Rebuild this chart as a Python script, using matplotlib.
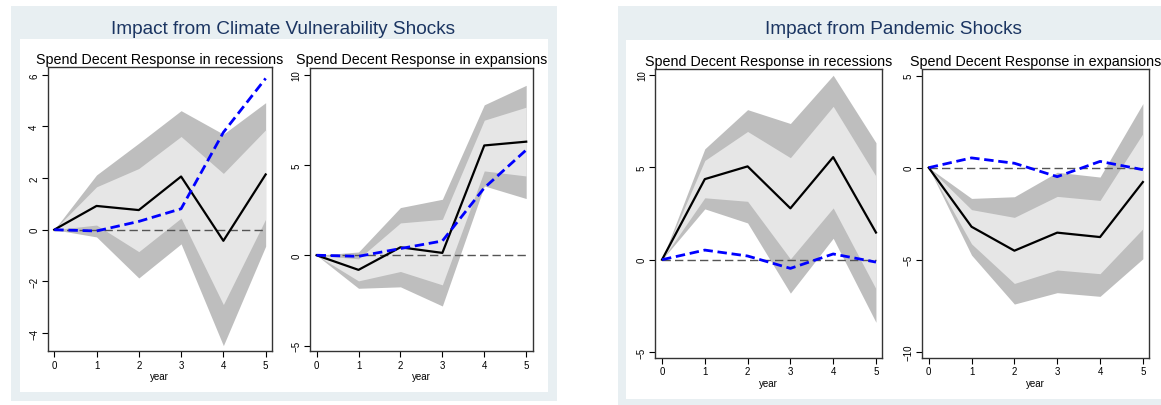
import matplotlib
matplotlib.use("Agg")
import matplotlib.pyplot as plt
from matplotlib.patches import Rectangle

plt.rcParams['font.family'] = ['Liberation Sans', 'DejaVu Sans']

# ---------------- data ----------------
years = [0, 1, 2, 3, 4, 5]

group_titles = ["Impact from Climate Vulnerability Shocks", "Impact from Pandemic Shocks"]
panel_titles = ["Spend Decent Response in recessions", "Spend Decent Response in expansions"]
xlabel = "year"

# Climate vulnerability shocks - recessions
clim_rec_irf = [0, 0.92, 0.76, 2.06, -0.43, 2.14]
clim_rec_alt = [0, -0.05, 0.32, 0.81, 3.77, 5.86]
clim_rec_hi90 = [0, 2.12, 3.35, 4.61, 3.70, 4.92]
clim_rec_hi68 = [0, 1.66, 2.37, 3.61, 2.18, 3.87]
clim_rec_lo68 = [0, 0.18, -0.85, 0.45, -2.90, 0.41]
clim_rec_lo90 = [0, -0.28, -1.87, -0.55, -4.49, -0.64]

# Climate vulnerability shocks - expansions
clim_exp_irf = [0, -0.81, 0.44, 0.13, 6.08, 6.29]
clim_exp_alt = [0, -0.06, 0.37, 0.79, 3.73, 5.83]
clim_exp_hi90 = [0, 0.18, 2.64, 3.10, 8.33, 9.41]
clim_exp_hi68 = [0, -0.20, 1.79, 1.99, 7.48, 8.20]
clim_exp_lo68 = [0, -1.42, -0.90, -1.64, 4.67, 4.39]
clim_exp_lo90 = [0, -1.83, -1.75, -2.81, 3.84, 3.14]

# Pandemic shocks - recessions
pand_rec_irf = [0, 4.36, 5.05, 2.78, 5.55, 1.47]
pand_rec_alt = [0, 0.52, 0.20, -0.47, 0.31, -0.13]
pand_rec_hi90 = [0, 6.00, 8.12, 7.37, 9.98, 6.33]
pand_rec_hi68 = [0, 5.37, 6.94, 5.52, 8.30, 4.52]
pand_rec_lo68 = [0, 3.35, 3.16, 0.04, 2.80, -1.58]
pand_rec_lo90 = [0, 2.75, 1.99, -1.81, 1.16, -3.39]

# Pandemic shocks - expansions
pand_exp_irf = [0, -3.21, -4.51, -3.53, -3.77, -0.78]
pand_exp_alt = [0, 0.53, 0.24, -0.49, 0.34, -0.11]
pand_exp_hi90 = [0, -1.67, -1.58, -0.25, -0.51, 3.48]
pand_exp_hi68 = [0, -2.28, -2.70, -1.56, -1.78, 1.85]
pand_exp_lo68 = [0, -4.14, -6.29, -5.56, -5.76, -3.32]
pand_exp_lo90 = [0, -4.75, -7.41, -6.79, -6.99, -4.95]

yticks_list = [[-4, -2, 0, 2, 4, 6], [-5, 0, 5, 10], [-5, 0, 5, 10], [-10, -5, 0, 5]]
ylims = [(-4.71, 6.29), (-5.32, 10.37), (-5.32, 10.32), (-10.34, 5.36)]

panels = [
    (clim_rec_irf, clim_rec_alt, clim_rec_lo90, clim_rec_hi90, clim_rec_lo68, clim_rec_hi68),
    (clim_exp_irf, clim_exp_alt, clim_exp_lo90, clim_exp_hi90, clim_exp_lo68, clim_exp_hi68),
    (pand_rec_irf, pand_rec_alt, pand_rec_lo90, pand_rec_hi90, pand_rec_lo68, pand_rec_hi68),
    (pand_exp_irf, pand_exp_alt, pand_exp_lo90, pand_exp_hi90, pand_exp_lo68, pand_exp_hi68),
]

# ---------------- layout ----------------
W, H = 1161, 406
fig = plt.figure(figsize=(W / 100, H / 100), dpi=100)
fig.patch.set_facecolor('white')


def fbox(x0, y0, x1, y1):
    return [x0 / W, 1 - y1 / H, (x1 - x0) / W, (y1 - y0) / H]


def frect(x0, y0, x1, y1, color):
    b = fbox(x0, y0, x1, y1)
    fig.add_artist(Rectangle((b[0], b[1]), b[2], b[3], transform=fig.transFigure,
                             facecolor=color, edgecolor='none', zorder=-10))


BG = '#e8eff2'
frect(11, 6.7, 556.5, 401.7, BG)
frect(20.4, 40, 547.6, 393.3, 'white')
frect(617.8, 7.3, 1200, 410, BG)
frect(626.3, 41, 1190, 400, 'white')

TITLE_C = '#1b3562'
fig.text(283 / W, 1 - 34.3 / H, group_titles[0], ha='center', va='baseline',
         fontsize=13.7, color=TITLE_C)
fig.text(893.7 / W, 1 - 34.3 / H, group_titles[1], ha='center', va='baseline',
         fontsize=13.7, color=TITLE_C)

axes_px = [
    (47.6, 68.3, 272.0, 352.3),
    (310.0, 69.0, 532.5, 352.3),
    (655.3, 70.0, 882.4, 359.0),
    (922.0, 70.0, 1149.3, 359.0),
]
title_base = [64.1, 64.1, 66.1, 66.1]
titles = [panel_titles[0], panel_titles[1], panel_titles[0], panel_titles[1]]

DARK = '#bebebe'
LIGHT = '#e6e6e6'

for i, (box, data) in enumerate(zip(axes_px, panels)):
    irf, alt, lo90, hi90, lo68, hi68 = data
    ax = fig.add_axes(fbox(*box))
    ax.set_facecolor('white')
    ax.fill_between(years, lo90, hi90, color=DARK, linewidth=0, zorder=1)
    ax.fill_between(years, lo68, hi68, color=LIGHT, linewidth=0, zorder=2)
    ax.plot([years[0], years[-1]], [0, 0], color='#555555', lw=1.0,
            dashes=(6, 3), zorder=3)
    ax.plot(years, irf, color='black', lw=1.6, zorder=4)
    ax.plot(years, alt, color='#0000ff', lw=2.0, dashes=(3.4, 1.7), zorder=5)
    ax.set_xlim(-0.157, 5.15)
    ax.set_ylim(*ylims[i])
    ax.set_xticks(years)
    ax.set_yticks(yticks_list[i])
    ax.tick_params(axis='x', length=4, width=0.8, pad=2, labelsize=7, direction='out')
    ax.tick_params(axis='y', length=4, width=0.8, pad=2, labelsize=7, direction='out',
                   labelrotation=90)
    for lab in ax.get_yticklabels():
        lab.set_va('center')
    ax.set_xlabel(xlabel, fontsize=7, labelpad=1)
    for sp in ax.spines.values():
        sp.set_color('#333333')
        sp.set_linewidth(1.0)
    cx = (box[0] + box[2]) / 2
    fig.text(cx / W, 1 - title_base[i] / H, titles[i], ha='center', va='baseline',
             fontsize=10.3, color='black')

fig.savefig('out.png', dpi=100)
